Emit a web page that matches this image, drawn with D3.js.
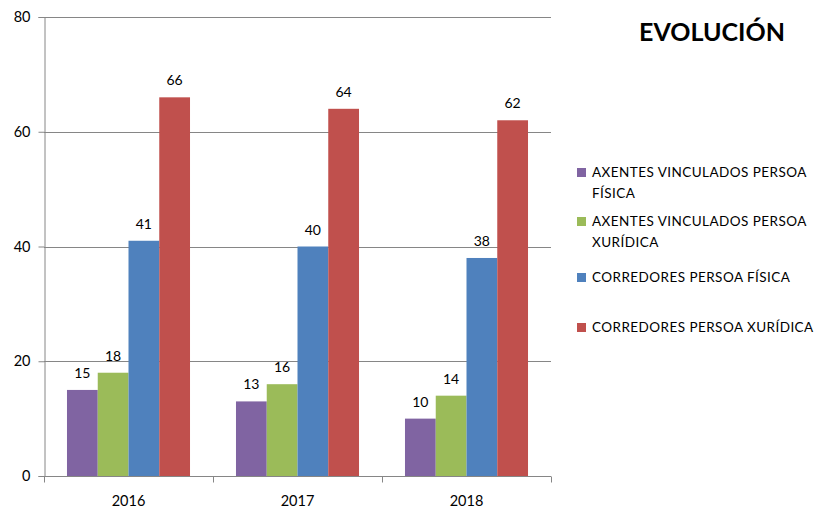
<!DOCTYPE html>
<html><head><meta charset="utf-8">
<script src="https://cdn.jsdelivr.net/npm/d3@7"></script>
<style>body{margin:0;background:#fff;} svg{display:block;font-family:Lato,"Open Sans",sans-serif;}</style>
</head><body>
<svg id="c" width="818" height="507"></svg>
<script>
const categories = ["2016", "2017", "2018"];
const seriesNames = [
  ["AXENTES VINCULADOS PERSOA", "FÍSICA"],
  ["AXENTES VINCULADOS PERSOA", "XURÍDICA"],
  ["CORREDORES PERSOA FÍSICA"],
  ["CORREDORES PERSOA XURÍDICA"]
];
const axentesFisica = [15, 13, 10];
const axentesXuridica = [18, 16, 14];
const corredoresFisica = [41, 40, 38];
const corredoresXuridica = [66, 64, 62];
const yTicks = [0, 20, 40, 60, 80];
const colors = ["#8064A2", "#9BBB59", "#4F81BD", "#C0504D"];
const title = "EVOLUCIÓN";

const series = [axentesFisica, axentesXuridica, corredoresFisica, corredoresXuridica];
const svg = d3.select("#c");
const m = {l: 44, r: 551, t: 17, b: 476};

const y = d3.scaleLinear().domain([0, 80]).range([m.b, m.t]);
const x0 = d3.scaleBand().domain(categories).range([m.l, m.r]).paddingInner(0.272).paddingOuter(0.136);
const x1 = d3.scaleBand().domain(d3.range(series.length)).range([0, x0.bandwidth()]);

// gridlines
svg.append("g").selectAll("line").data(yTicks.filter(d => d > 0)).join("line")
  .attr("x1", m.l).attr("x2", m.r)
  .attr("y1", d => Math.round(y(d)) + 0.5).attr("y2", d => Math.round(y(d)) + 0.5)
  .attr("stroke", "#868686").attr("stroke-width", 1);

// bars
categories.forEach((c, ci) => {
  series.forEach((s, si) => {
    svg.append("rect")
      .attr("x", x0(c) + x1(si)).attr("width", x1.bandwidth())
      .attr("y", y(s[ci])).attr("height", y(0) - y(s[ci]))
      .attr("fill", colors[si]);
    svg.append("text")
      .attr("x", x0(c) + x1(si) + x1.bandwidth() / 2)
      .attr("y", y(s[ci]) - 12)
      .attr("text-anchor", "middle").attr("font-size", 14).attr("fill", "#000")
      .text(s[ci]);
  });
});

// y axis
const yAxis = svg.append("g").attr("transform", `translate(${m.l + 0.5},0)`)
  .call(d3.axisLeft(y).tickValues(yTicks).tickSize(6).tickPadding(8));
yAxis.select(".domain").attr("stroke", "#868686");
yAxis.selectAll(".tick line").attr("stroke", "#868686");
yAxis.selectAll("text").attr("font-size", 14.5).attr("fill", "#000").attr("font-family", "Lato,sans-serif");

// x axis
const xg = svg.append("g").attr("transform", `translate(0,${Math.round(y(0)) + 0.5})`);
xg.append("line").attr("x1", m.l).attr("x2", m.r).attr("stroke", "#868686");
const bounds = [m.l].concat(categories.map(c => x0(c) + x0.bandwidth() + x0.step() * x0.paddingInner() / 2));
xg.selectAll(".xt").data(bounds).join("line")
  .attr("x1", d => Math.round(d) + 0.5).attr("x2", d => Math.round(d) + 0.5)
  .attr("y1", 0).attr("y2", 6).attr("stroke", "#868686");
xg.selectAll(".xl").data(categories).join("text")
  .attr("x", d => x0(d) + x0.bandwidth() / 2).attr("y", 29)
  .attr("text-anchor", "middle").attr("font-size", 14.5).attr("fill", "#000").text(d => d);

// title
svg.append("text").attr("x", 712).attr("y", 41).attr("text-anchor", "middle")
  .attr("font-size", 25).attr("font-weight", "bold").attr("fill", "#000").text(title);

// legend
const legY = [177, 226, 282, 332];
seriesNames.forEach((lines, i) => {
  svg.append("rect").attr("x", 577).attr("y", legY[i] - 9).attr("width", 9).attr("height", 9).attr("fill", colors[i]);
  const t = svg.append("text").attr("x", 592).attr("y", legY[i]).attr("font-size", 13.5)
    .attr("letter-spacing", 0.45).attr("fill", "#000");
  lines.forEach((l, li) => t.append("tspan").attr("x", 592).attr("dy", li === 0 ? 0 : 20.5).text(l));
});
</script>
</body></html>
